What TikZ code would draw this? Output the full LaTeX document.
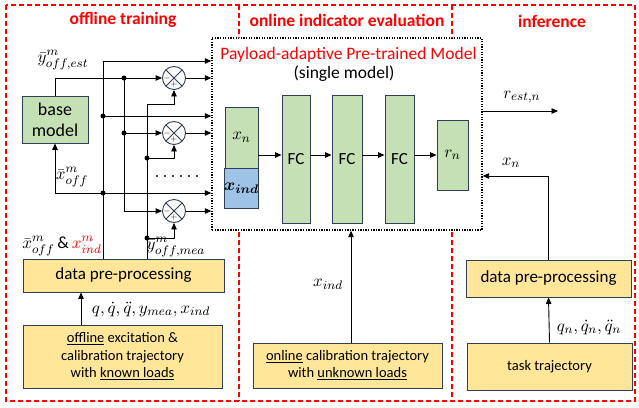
\documentclass[tikz,border=0pt]{standalone}
\usepackage{fontspec}
\setmainfont{Carlito}
\usepackage{bm}
\usepackage{graphicx}
\usetikzlibrary{arrows.meta,calc}
\definecolor{gfill}{HTML}{C5E0B4}
\definecolor{bfill}{HTML}{9DC3E6}
\definecolor{yfill}{HTML}{FFE699}
\definecolor{bord}{HTML}{2F3F58}
\definecolor{rd}{HTML}{FF0000}
\newcommand{\mathlbl}[1]{\scalebox{1.55}{$#1$}}
\tikzset{
  ybox/.style={draw=bord, line width=0.9pt, fill=yfill, align=center, inner sep=0pt},
  gbox/.style={draw=bord, line width=0.9pt, fill=gfill, align=center, inner sep=0pt},
  bbox/.style={draw=bord, line width=0.9pt, fill=bfill, align=center, inner sep=0pt},
  arr/.style={-{Triangle[length=6.5pt,width=5.5pt]}, line width=0.9pt},
  ln/.style={line width=0.9pt},
  jdot/.style={circle, fill=black, inner sep=0pt, minimum size=5pt},
  reddash/.style={draw=rd, line width=1.3pt, dash pattern=on 5pt off 3pt},
  hdr/.style={font=\bfseries\fontsize{17.5}{20}\selectfont, text=rd},
  mlab/.style={font=\fontsize{11}{13}\selectfont, inner sep=0pt},
  mix/.style={circle, draw=bord, fill=white, line width=0.9pt, minimum size=23pt, inner sep=0pt,
    path picture={
      \draw[line width=0.8pt, bord] (path picture bounding box.north west) -- (path picture bounding box.south east)
        (path picture bounding box.north east) -- (path picture bounding box.south west);
      \node[font=\fontsize{8}{8}\selectfont, inner sep=0pt] at ([xshift=-6.8pt]path picture bounding box.center) {$-$};
      \node[font=\fontsize{8}{8}\selectfont, inner sep=0pt] at ([yshift=-6.8pt]path picture bounding box.center) {$+$};
    }},
}
\begin{document}
\begin{tikzpicture}[x=1pt,y=-1pt]
\useasboundingbox (0,0) rectangle (639,407);
% outer frame
\draw[reddash] (6,5) rectangle (635,401);
% headers
\node[hdr] (h1) at (123,20) {offline training};
\node[hdr] (h2) at (347,20) {online indicator evaluation};
\node[hdr] (h3) at (552,21) {inference};
% pretrained model box
\node[draw, line width=1.3pt, dash pattern=on 1.3pt off 1.3pt, fill=white, minimum width=270pt, minimum height=192pt, inner sep=0pt] (pm) at (347,134) {};
% dividers
\draw[reddash] (239,5) -- (239 ,38);
\draw[reddash] (452,5) -- (452,38);
\draw[reddash] (239,232) -- (239,401);
\draw[reddash] (452,232) -- (452,401);
\node[font=\fontsize{17.5}{20}\selectfont, text=rd, inner sep=0pt] (tt) at (348.5,55) {Payload-adaptive Pre-trained Model};
\node[font=\fontsize{17.5}{20}\selectfont, inner sep=0pt] (st) at (344,74) {(single model)};
% inner network
\node[gbox, minimum width=33pt, minimum height=61pt, mlab] (xn) at (241.5,137.5) {\mathlbl{x_n}};
\node[bbox, minimum width=33pt, minimum height=40pt, mlab] (xi) at (241.5,188) {\mathlbl{\bm{x_{ind}}}};
\node[gbox, minimum width=28pt, minimum height=128pt, font=\fontsize{17}{19}\selectfont] (fc1) at (296,159) {FC};
\node[gbox, minimum width=30pt, minimum height=128pt, font=\fontsize{17}{19}\selectfont] (fc2) at (347,159) {FC};
\node[gbox, minimum width=29pt, minimum height=128pt, font=\fontsize{17}{19}\selectfont] (fc3) at (399.5,159) {FC};
\node[gbox, minimum width=31pt, minimum height=70pt, mlab] (rn) at (452.5,155) {\mathlbl{r_n}};
\draw[arr] (xn.east |- rn) -- (fc1.west |- rn);
\draw[arr] (fc1.east |- rn) -- (fc2.west |- rn);
\draw[arr] (fc2.east |- rn) -- (fc3.west |- rn);
\draw[arr] (fc3.east |- rn) -- (rn.west);
% inference side
\node[ybox, minimum width=165pt, minimum height=37pt, font=\fontsize{17}{19}\selectfont] (rpre) at (548.5,278.5) {data pre-processing};
\node[ybox, minimum width=165pt, minimum height=47pt, font=\fontsize{14.5}{18}\selectfont] (task) at (549.5,366.5) {task trajectory};
\coordinate (rout) at (558,111);
\coordinate (xnc) at (548.5,176);
\draw[arr] (pm.east |- rout) -- (rout);
\draw[arr] (rpre.north) -- (xnc) -- (xnc -| pm.east);
\draw[arr] (task.north) -- (rpre.south);
\node[mlab] (lrest) at (522,97) {\mathlbl{r_{est,n}}};
\node[mlab] (lxn) at (511,163) {\mathlbl{x_n}};
\node[mlab] (lq) at (589,327) {\mathlbl{q_n, \dot{q}_n, \ddot{q}_n}};
% online side
\node[ybox, minimum width=189pt, minimum height=45pt, font=\fontsize{14.5}{17}\selectfont] (onl) at (347.5,365.5) {\underline{online} calibration trajectory\\with \underline{unknown loads}};
\draw[arr] ([xshift=3.5pt]onl.north) -- ([xshift=3.5pt]onl.north |- pm.south);
\node[mlab] (lxind) at (328,284) {\mathlbl{x_{ind}}};
% offline side
\node[gbox, minimum width=66pt, minimum height=47pt, font=\fontsize{18}{21}\selectfont] (base) at (55,119.5) {base\\model};
\node[ybox, minimum width=201pt, minimum height=33pt, font=\fontsize{17}{19}\selectfont] (lpre) at (123.5,275.5) {data pre-processing};
\node[ybox, minimum width=199pt, minimum height=63pt, font=\fontsize{14.5}{17.5}\selectfont] (off) at (122.5,356.5) {\underline{offline} excitation \&\\calibration trajectory\\with \underline{known loads}};
\draw[arr] ([xshift=-41.5pt]off.north) -- ([xshift=-41.5pt]off.north |- lpre.south);
\node[mlab] (lqq) at (151,309) {\mathlbl{q, \dot{q}, \ddot{q}, y_{mea}, x_{ind}}};
% mixers
\node[mix] (m1) at (174,78) {};
\node[mix] (m2) at (174,133) {};
\node[mix] (m3) at (174,211) {};
% trunk A
\coordinate (tA) at (103,61);
\coordinate (dA1) at (103,116);
\coordinate (dA2) at (103,193);
\coordinate (xo) at (55,193);
\draw[arr] (lpre.north -| tA) -- (tA) -- (tA -| pm.west);
\draw[arr] (dA1) -- (dA1 -| pm.west);
\draw[arr] (xo) -- (xo -| pm.west);
\draw[arr] (xo) -- (base.south);
\node[jdot] (jA1) at (dA1) {};
\node[jdot] (jA2) at (dA2) {};
% trunk B (estimated output)
\coordinate (tB) at (124,78);
\coordinate (bB2) at (124,133);
\coordinate (bB3) at (124,211);
\draw[arr] (base.north) -- (base.north |- m1) -- (m1.west);
\draw[ln] (tB) -- (bB3);
\draw[arr] (bB2) -- (m2.west);
\draw[arr] (bB3) -- (m3.west);
\node[jdot] (jB1) at (tB) {};
\node[jdot] (jB2) at (bB2) {};
% mixer outputs
\draw[arr] (m1.east) -- (m1.east -| pm.west);
\draw[arr] (m2.east) -- (m2.east -| pm.west);
\draw[arr] (m3.east) -- (m3.east -| pm.west);
% trunk C (measured output)
\coordinate (tC) at (147,104);
\coordinate (dC2) at (147,158);
\coordinate (dC3) at (147,238);
\draw[arr] (lpre.north -| tC) -- (tC) -- (tC -| m1) -- (m1.south);
\draw[arr] (dC2) -- (dC2 -| m2) -- (m2.south);
\draw[arr] (dC3) -- (dC3 -| m3) -- (m3.south);
\node[jdot] (jC2) at (dC2) {};
\node[jdot] (jC3) at (dC3) {};
% ellipsis dots
\foreach \i in {0,...,5} { \fill (157+8*\i,176) circle (1.1pt); }
% labels
\node[mlab] (lyest) at (63,60) {\mathlbl{\bar{y}^{m}_{off,est}}};
\node[mlab] (lxoff) at (72,177) {\mathlbl{\bar{x}^{m}_{off}}};
\node[mlab] (lxoi) at (62,246) {\mathlbl{\bar{x}^{m}_{off}\,\textrm{\&}\,{\color{rd}x^{m}_{ind}}}};
\node[mlab] (lymea) at (176,247) {\mathlbl{\bar{y}^{m}_{off,mea}}};
\end{tikzpicture}
\end{document}
